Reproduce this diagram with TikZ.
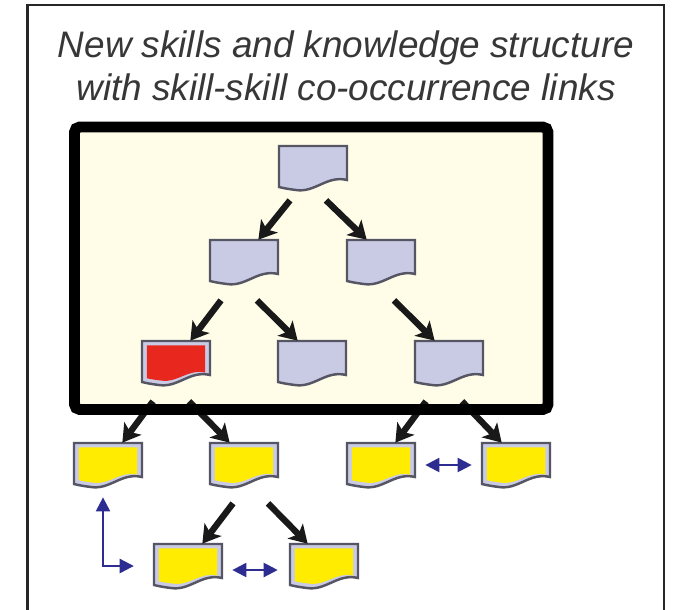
\documentclass[tikz,border=0pt]{standalone}
\usepackage{fontspec}
\setmainfont{Liberation Sans}
\usetikzlibrary{arrows.meta}

\definecolor{cream}{RGB}{255,253,232}
\definecolor{lavender}{RGB}{201,203,228}
\definecolor{docedge}{RGB}{85,85,100}
\definecolor{skillyellow}{RGB}{255,236,0}
\definecolor{skillred}{RGB}{232,40,30}
\definecolor{linkblue}{RGB}{45,45,145}
\definecolor{titlegray}{RGB}{55,55,55}

\tikzset{
  docbox/.style={minimum width=1.36cm, minimum height=0.88cm, inner sep=0pt},
  treearr/.style={-{Stealth[length=10pt,width=12pt,inset=2.5pt]}, line width=3.6pt, black!90},
  linkarr/.style={{Triangle[length=8pt,width=8pt]}-{Triangle[length=8pt,width=8pt]}, line width=1.2pt, linkblue},
}

% wavy document outline, local coordinates around the node centre
\newcommand{\docoutline}{(-34,-22) -- (34,-22) -- (34,12) .. controls (14,7) and (2,25) .. (-17,22) .. controls (-25,21) and (-30,20) .. (-34,19) -- cycle}
\newcommand{\skilldoc}[2]{%
  \begin{scope}[shift={(#1.center)}]
    \filldraw[fill=lavender, draw=docedge, line width=1.4pt] \docoutline;
    \fill[#2, xscale=0.86, yscale=0.8] \docoutline;
  \end{scope}}

\begin{document}
\begin{tikzpicture}[x=0.02cm, y=-0.02cm]
    \useasboundingbox (0,0) rectangle (675,609);
    \clip (0,0) rectangle (675,609);
    \fill[white] (0,0) rectangle (675,609);
    \draw[line width=1.2pt, black!85] (27.5,615) -- (27.5,5) -- (664,5) -- (664,615);

    \node[text=titlegray, align=center, font=\itshape\fontsize{21}{24.4}\selectfont] (title) at (346,66)
        {New skills and knowledge structure\\with skill-skill co-occurrence links};

    \fill[cream] (74.5,127) rectangle (548,409.5);

    % old structure
    \node[docbox] (top) at (313,168) {};
    \node[docbox] (left2) at (244,262) {};
    \node[docbox] (right2) at (381,262) {};
    \node[docbox] (redskill) at (176,363) {};
    \node[docbox] (mid3) at (312,363) {};
    \node[docbox] (right3) at (449,363) {};
    % new skills
    \node[docbox] (new1) at (108,465) {};
    \node[docbox] (new2) at (244,465) {};
    \node[docbox] (new3) at (381,465) {};
    \node[docbox] (new4) at (516,465) {};
    \node[docbox] (new5) at (188,566) {};
    \node[docbox] (new6) at (324,566) {};

    \skilldoc{top}{lavender}
    \skilldoc{left2}{lavender}
    \skilldoc{right2}{lavender}
    \skilldoc{redskill}{skillred}
    \skilldoc{mid3}{lavender}
    \skilldoc{right3}{lavender}
    \skilldoc{new1}{skillyellow}
    \skilldoc{new2}{skillyellow}
    \skilldoc{new3}{skillyellow}
    \skilldoc{new4}{skillyellow}
    \skilldoc{new5}{skillyellow}
    \skilldoc{new6}{skillyellow}

    \draw[treearr] ([shift={(-23,10)}]top.south) -- ([shift={(-20,0)}]left2.north east);
    \draw[treearr] ([shift={(13,10)}]top.south) -- ([shift={(20,0)}]right2.north west);
    \draw[treearr] ([shift={(-23,16)}]left2.south) -- ([shift={(-20,0)}]redskill.north east);
    \draw[treearr] ([shift={(13,16)}]left2.south) -- ([shift={(20,0)}]mid3.north west);
    \draw[treearr] ([shift={(13,16)}]right2.south) -- ([shift={(20,0)}]right3.north west);
    \draw[treearr] ([shift={(-23,16)}]redskill.south) -- ([shift={(-20,0)}]new1.north east);
    \draw[treearr] ([shift={(13,16)}]redskill.south) -- ([shift={(20,0)}]new2.north west);
    \draw[treearr] ([shift={(-23,16)}]right3.south) -- ([shift={(-20,0)}]new3.north east);
    \draw[treearr] ([shift={(13,16)}]right3.south) -- ([shift={(20,0)}]new4.north west);
    \draw[treearr] ([shift={(-11,16)}]new2.south) -- ([shift={(-20,0)}]new5.north east);
    \draw[treearr] ([shift={(24,16)}]new2.south) -- ([shift={(18,0)}]new6.north west);

    \draw[line width=6.2pt, rounded corners=3pt] (74.5,127) rectangle (548,409.5);

    % co-occurrence links
    \draw[linkarr, shorten <=5.7pt, shorten >=5.7pt] (new3.east) -- (new4.west);
    \draw[linkarr, shorten <=5.7pt, shorten >=6.8pt] ([shift={(0,4)}]new5.east) -- ([shift={(0,4)}]new6.west);
    \draw[linkarr, shorten <=5.7pt, shorten >=11.3pt] ([shift={(-5,0)}]new1.south) |- (new5.west);
\end{tikzpicture}
\end{document}
